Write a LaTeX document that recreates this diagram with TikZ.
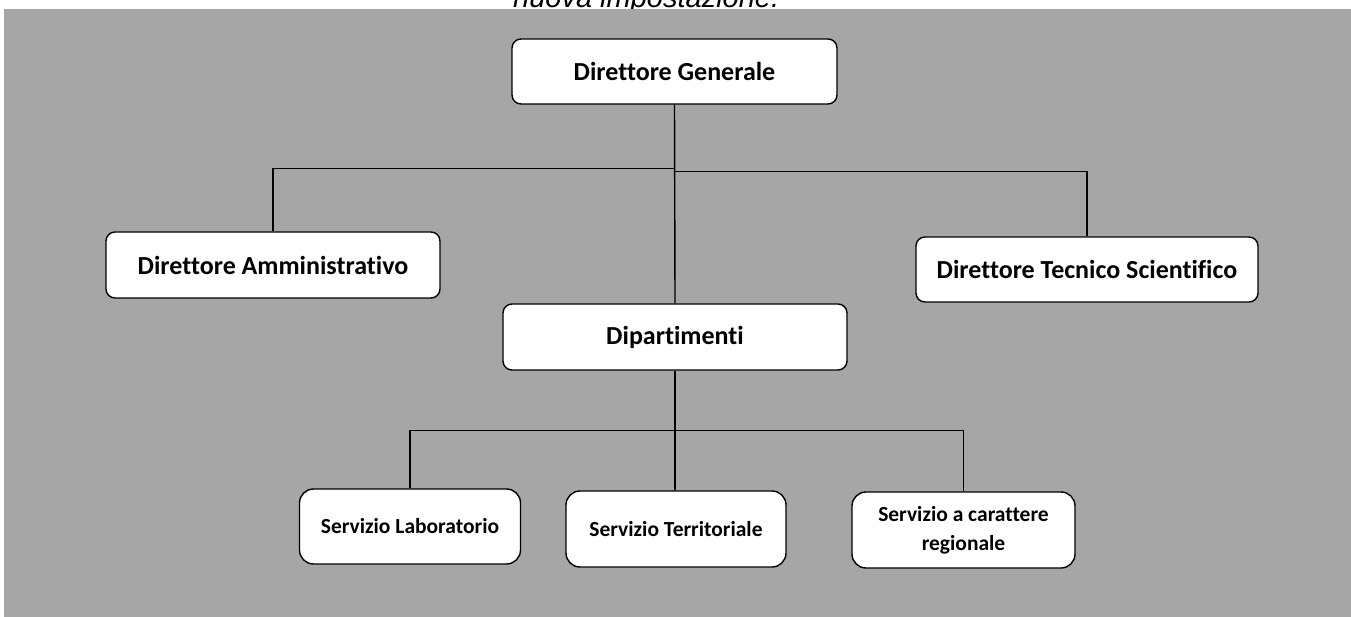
\documentclass[tikz,border=0pt]{standalone}
\usepackage{fontspec}
\usetikzlibrary{calc}
\setmainfont{Carlito}[Ligatures={NoCommon}]
\newfontfamily\arialfont{Liberation Sans}
\definecolor{bggray}{RGB}{166,166,166}
\tikzset{
  unitbox/.style={draw, line width=1.4pt, fill=white, rounded corners=9pt,
    font=\bfseries\fontsize{26}{30}\selectfont, align=center, inner sep=0pt},
  servbox/.style={unitbox, rounded corners=14pt, font=\bfseries\fontsize{21.5}{29}\selectfont},
  link/.style={line width=1.4pt}
}
\begin{document}
\begin{tikzpicture}[x=1pt,y=-1pt]
    \useasboundingbox (0,0) rectangle (1351,617);
    \fill[bggray] (4,9) rectangle (1351,617);
    \begin{scope}
        \clip (0,0) rectangle (1351,9);
        \node[anchor=base west, inner sep=0pt, font=\arialfont\itshape\fontsize{29}{32}\selectfont] (title) at (513,7.5) {nuova impostazione.};
    \end{scope}
    \node[unitbox, minimum width=325pt, minimum height=65pt] (dg) at (674.5,71.5) {Direttore Generale};
    \node[unitbox, minimum width=334pt, minimum height=66pt] (da) at (273,265) {Direttore Amministrativo};
    \node[unitbox, minimum width=342pt, minimum height=65pt] (dts) at (1087,269.5) {Direttore Tecnico Scientifico};
    \node[unitbox, minimum width=344pt, minimum height=66pt] (dip) at (675,337) {Dipartimenti};
    \node[servbox, minimum width=221pt, minimum height=75pt] (sl) at (410,526.5) {Servizio Laboratorio};
    \node[servbox, minimum width=220pt, minimum height=76pt] (st) at (676,529) {Servizio Territoriale};
    \node[servbox, minimum width=223pt, minimum height=76pt] (scr) at (963.5,530) {Servizio a carattere\\regionale};
    \coordinate (dgleft) at ($(dg.south)+(0,64)$);
    \coordinate (dgright) at ($(dg.south)+(0,67)$);
    \coordinate (dipfork) at ($(dip.south)+(0,60)$);
    \draw[link] (dg.south) -- (dip.north);
    \draw[link] (dgleft) -| (da.north);
    \draw[link] (dgright) -| (dts.north);
    \draw[link, line width=2.6pt] (dip.south) -- (dipfork);
    \draw[link] (dipfork) -| (sl.north);
    \draw[link] (dipfork) -| (scr.north);
    \draw[link] (dipfork) -- (dipfork |- st.north);
\end{tikzpicture}
\end{document}
